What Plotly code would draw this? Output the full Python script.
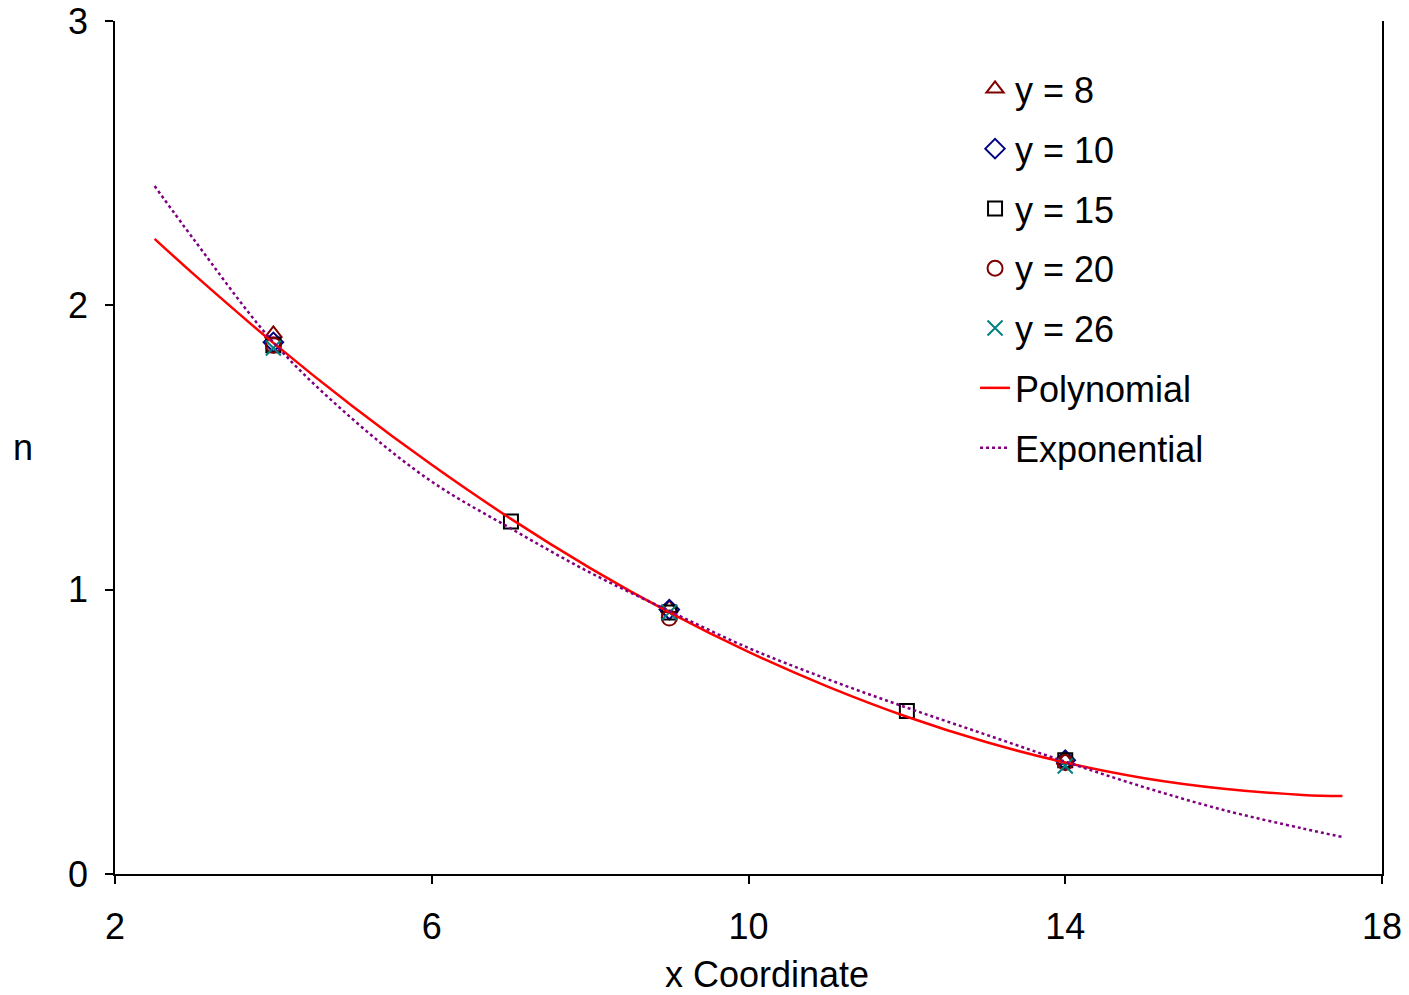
import plotly.graph_objects as go

# ---- data ----
x_main = [4, 9, 14]
n_y8 = [1.90, 0.935, 0.40]
n_y10 = [1.87, 0.93, 0.40]
x_y15 = [4, 7, 9, 12, 14]
n_y15 = [1.86, 1.24, 0.92, 0.573, 0.40]
n_y20 = [1.86, 0.90, 0.392]
n_y26 = [1.85, 0.92, 0.38]

x_fit = [2.5, 3, 4, 5, 6, 7, 8, 9, 10, 11, 12, 13, 14, 15, 16, 17, 17.5]
n_poly = [2.234, 2.108, 1.868, 1.645, 1.439, 1.249, 1.076, 0.920, 0.781,
          0.659, 0.553, 0.464, 0.392, 0.337, 0.300, 0.278, 0.274]
n_expo = [2.420, 2.230, 1.870, 1.600, 1.380, 1.215, 1.060, 0.925, 0.795,
          0.685, 0.585, 0.490, 0.395, 0.305, 0.225, 0.160, 0.130]

x_ticks = [2, 6, 10, 14, 18]
y_ticks = [0, 1, 2, 3]

FONT = "Liberation Sans, Arial, sans-serif"

fig = go.Figure()

def pts(name, x, y, symbol, color, size=15):
    fig.add_trace(go.Scatter(
        x=x, y=y, mode="markers", name=name, legendgroup=name,
        marker=dict(symbol=symbol, size=size, color=color,
                    line=dict(color=color, width=2)),
    ))

pts("y = 8", x_main, n_y8, "triangle-up-open", "#800000")
pts("y = 10", x_main, n_y10, "diamond-open", "#000080")
pts("y = 15", x_y15, n_y15, "square-open", "#000000", 14)
pts("y = 20", x_main, n_y20, "circle-open", "#800000")
pts("y = 26", x_main, n_y26, "x-thin-open", "#008080")

fig.add_trace(go.Scatter(
    x=x_fit, y=n_poly, mode="lines", name="Polynomial", legendgroup="Polynomial",
    line=dict(color="#FF0000", width=2.5, shape="spline"),
))
fig.add_trace(go.Scatter(
    x=x_fit, y=n_expo, mode="lines", name="Exponential", legendgroup="Exponential",
    line=dict(color="#800080", width=2.5, dash="dot", shape="spline"),
))

fig.update_layout(
    width=1409, height=995,
    margin=dict(l=115, r=27, t=21, b=121, autoexpand=False),
    paper_bgcolor="white", plot_bgcolor="white",
    font=dict(family=FONT, size=36, color="black"),
    showlegend=True,
    legend=dict(
        x=0.6788, y=0.9555, xanchor="left", yanchor="top",
        font=dict(family=FONT, size=36, color="black"),
        tracegroupgap=10, bgcolor="rgba(0,0,0,0)",
    ),
    xaxis=dict(
        range=[2, 18], tickvals=x_ticks, ticks="outside", ticklen=8,
        tickwidth=1.5, tickcolor="black", showline=True, linecolor="black",
        linewidth=1.5, showgrid=False, zeroline=False, automargin=False,
        tickfont=dict(size=36), ticklabelstandoff=12,
    ),
    yaxis=dict(
        range=[0, 3], tickvals=y_ticks, ticks="outside", ticklen=8,
        tickwidth=1.5, tickcolor="black", showline=True, linecolor="black",
        linewidth=1.5, showgrid=False, zeroline=False, mirror=True,
        automargin=False, tickfont=dict(size=36), ticklabelstandoff=10,
    ),
    annotations=[
        dict(text="n", xref="paper", yref="paper", x=-0.073, y=0.5,
             xanchor="center", yanchor="middle", showarrow=False,
             font=dict(size=36)),
        dict(text="x Coordinate", xref="paper", yref="paper", x=0.5146, y=-0.1184,
             xanchor="center", yanchor="middle", showarrow=False,
             font=dict(size=36)),
    ],
)

fig.write_html("out.html", config={"displayModeBar": False},
               post_script="document.body.style.margin='0';")
